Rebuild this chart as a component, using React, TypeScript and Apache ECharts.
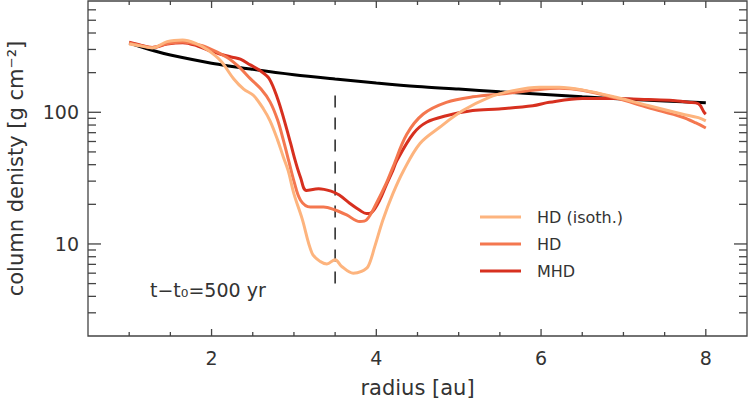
import React, { useEffect, useRef } from 'react';
import * as echarts from 'echarts';

// ---- data ----
const refR = [1.0, 1.3, 1.5, 2.0, 2.5, 3.0, 3.5, 4.0, 4.5, 5.0, 5.5, 6.0, 6.5, 7.0, 7.5, 8.0];
const refSigma = [336, 293, 272, 236, 212, 193, 179, 167, 157, 150, 143, 137, 131, 126, 122, 118];

const isoR = [1.0, 1.15, 1.28, 1.46, 1.65, 1.8, 1.95, 2.11, 2.27, 2.39, 2.51, 2.63, 2.71, 2.8, 2.87, 2.93, 3.0, 3.1, 3.22, 3.32, 3.4, 3.5, 3.58, 3.72, 3.82, 3.9, 3.98, 4.08, 4.2, 4.33, 4.53, 4.77, 5.05, 5.37, 5.66, 5.98, 6.22, 6.5, 6.91, 7.31, 7.71, 7.91, 8.0];
const isoSigma = [330, 318, 308, 344, 354, 335, 298, 246, 179, 150, 134, 106, 86, 62, 46, 36, 24, 15.5, 8.5, 7.35, 7.05, 7.6, 6.75, 6.0, 6.2, 6.75, 9.5, 15.2, 24, 36, 58, 77, 103, 130, 146, 155, 155, 148, 130, 112, 97, 91, 86];

const hdR = [1.0, 1.15, 1.28, 1.46, 1.65, 1.8, 1.95, 2.19, 2.33, 2.47, 2.6, 2.71, 2.8, 2.87, 2.94, 3.0, 3.08, 3.2, 3.36, 3.5, 3.64, 3.8, 3.88, 4.0, 4.12, 4.2, 4.37, 4.57, 4.85, 5.17, 5.58, 5.9, 6.22, 6.5, 6.91, 7.31, 7.71, 7.88, 8.0];
const hdSigma = [336, 320, 310, 333, 342, 330, 310, 261, 222, 180, 150, 120, 88, 62, 42, 30, 21.5, 19.1, 19.1, 18.1, 16.6, 14.8, 15.2, 20.3, 28.8, 38, 68, 97, 119, 131, 139, 147, 152, 147, 128, 108, 92, 83, 76];

const mhdR = [1.0, 1.15, 1.28, 1.46, 1.65, 1.83, 2.0, 2.11, 2.25, 2.35, 2.47, 2.6, 2.7, 2.8, 2.88, 2.96, 3.02, 3.08, 3.15, 3.3, 3.45, 3.55, 3.68, 3.8, 3.88, 3.95, 4.04, 4.12, 4.2, 4.25, 4.45, 4.61, 4.85, 5.17, 5.49, 5.9, 6.1, 6.5, 6.9, 7.3, 7.6, 7.79, 7.91, 7.98, 8.0];
const mhdSigma = [340, 322, 310, 330, 338, 319, 290, 276, 262, 253, 229, 205, 180, 128, 88, 58, 42, 32, 25.5, 26.3, 25.2, 23.5, 20.3, 18, 17, 17.5, 21.5, 28, 36, 43, 69, 84, 94, 103, 106, 112, 119, 127, 127, 125, 123, 119, 116, 100, 97];

const gapR = 3.5;
const gapMarkerSigma = [5, 150];

const seriesNames = ['HD (isoth.)', 'HD', 'MHD'];
const seriesColors = ['#fdb47e', '#f4774f', '#d7301f'];

const xMajorTicks = [2, 4, 6, 8];
const xMinorTicks = [1, 1.5, 2.5, 3, 3.5, 4.5, 5, 5.5, 6.5, 7, 7.5];
const yMajorTicks = [10, 100];
const yMinorTicks = [3, 4, 5, 6, 7, 8, 9, 20, 30, 40, 50, 60, 70, 80, 90, 200, 300, 400, 500, 600];

const X_MIN = 0.5;
const X_MAX = 8.5;
const Y_MIN = 2;
const Y_MAX = 700;

const FONT = 'DejaVu Sans';
const AXIS = '#444';
const TEXT = '#333';

const zip = (xs: number[], ys: number[]) => xs.map((x, i) => [x, ys[i]]);

function xTickSeries(ticks: number[], len: number) {
  return {
    type: 'custom',
    silent: true,
    z: 10,
    clip: false,
    data: ticks.map((v) => [v, Y_MIN]),
    renderItem: (params: any, api: any) => {
      const cs = params.coordSys;
      const x = api.coord([api.value(0), Y_MIN])[0];
      const b = cs.y + cs.height;
      const t = cs.y;
      return {
        type: 'group',
        children: [
          { type: 'line', shape: { x1: x, y1: b, x2: x, y2: b - len }, style: { stroke: AXIS, lineWidth: 1.3 } },
          { type: 'line', shape: { x1: x, y1: t, x2: x, y2: t + len }, style: { stroke: AXIS, lineWidth: 1.3 } },
        ],
      };
    },
  };
}

function yTickSeries(ticks: number[], len: number) {
  return {
    type: 'custom',
    silent: true,
    z: 10,
    clip: false,
    data: ticks.map((v) => [X_MIN, v]),
    renderItem: (params: any, api: any) => {
      const cs = params.coordSys;
      const y = api.coord([X_MIN, api.value(1)])[1];
      const l = cs.x;
      const r = cs.x + cs.width;
      return {
        type: 'group',
        children: [
          { type: 'line', shape: { x1: l, y1: y, x2: l + len, y2: y }, style: { stroke: AXIS, lineWidth: 1.3 } },
          { type: 'line', shape: { x1: r, y1: y, x2: r - len, y2: y }, style: { stroke: AXIS, lineWidth: 1.3 } },
        ],
      };
    },
  };
}

export default function App() {
  const ref = useRef<HTMLDivElement>(null);
  useEffect(() => {
    if (!ref.current) return;
    const chart = echarts.init(ref.current, null, { renderer: 'svg' });
    const curveData = [zip(isoR, isoSigma), zip(hdR, hdSigma), zip(mhdR, mhdSigma)];
    const legendTop = 217;
    const legendStep = 27;
    const option: any = {
      animation: false,
      textStyle: { fontFamily: FONT },
      grid: {
        left: 88,
        right: 1,
        top: 1,
        bottom: 65,
        containLabel: false,
        outerBoundsMode: 'none',
        show: true,
        borderColor: AXIS,
        borderWidth: 1.3,
        backgroundColor: 'transparent',
      },
      xAxis: {
        type: 'value',
        min: X_MIN,
        max: X_MAX,
        interval: 0.5,
        name: 'radius [au]',
        nameLocation: 'middle',
        nameGap: 41,
        nameTextStyle: { fontSize: 21, color: TEXT, fontFamily: FONT },
        axisLine: { show: false },
        axisTick: { show: false },
        splitLine: { show: false },
        axisLabel: {
          fontSize: 19,
          color: TEXT,
          margin: 12,
          fontFamily: FONT,
          formatter: (v: number) => (xMajorTicks.includes(v) ? String(v) : ''),
        },
      },
      yAxis: {
        type: 'log',
        logBase: 10,
        min: Y_MIN,
        max: Y_MAX,
        name: 'column denisty [g cm⁻²]',
        nameLocation: 'middle',
        nameGap: 62,
        nameTextStyle: { fontSize: 21, color: TEXT, fontFamily: FONT },
        axisLine: { show: false },
        axisTick: { show: false },
        splitLine: { show: false },
        axisLabel: {
          fontSize: 19,
          color: TEXT,
          margin: 9,
          fontFamily: FONT,
          showMinLabel: false,
          showMaxLabel: false,
          formatter: (v: number) => (yMajorTicks.some((t) => Math.abs(t - v) < 1e-6 * t) ? String(Math.round(v)) : ''),
        },
      },
      series: [
        {
          type: 'line',
          name: 'gap',
          data: gapMarkerSigma.map((s) => [gapR, s]),
          symbol: 'none',
          silent: true,
          lineStyle: { color: '#222', width: 1.5, type: [12, 10] },
          z: 1,
        },
        {
          type: 'line',
          name: 'initial',
          data: zip(refR, refSigma),
          symbol: 'none',
          smooth: 0.3,
          lineStyle: { color: '#000', width: 3 },
          z: 2,
        },
        ...[2, 1, 0].map((i) => ({
          type: 'line',
          name: seriesNames[i],
          data: curveData[i],
          symbol: 'none',
          smooth: 0.35,
          lineStyle: { color: seriesColors[i], width: 3 },
          z: 3,
        })),
        xTickSeries(xMajorTicks, 7),
        xTickSeries(xMinorTicks, 4),
        yTickSeries(yMajorTicks, 13),
        yTickSeries(yMinorTicks, 8),
      ],
      graphic: [
        ...seriesNames.map((n, i) => ({
          type: 'group',
          children: [
            {
              type: 'line',
              shape: { x1: 480, y1: legendTop + i * legendStep, x2: 521, y2: legendTop + i * legendStep },
              style: { stroke: seriesColors[i], lineWidth: 3 },
            },
            {
              type: 'text',
              x: 537,
              y: legendTop + i * legendStep,
              style: { text: n, fill: TEXT, font: `16px "${FONT}"`, textVerticalAlign: 'middle', textAlign: 'left' },
            },
          ],
        })),
        {
          type: 'text',
          x: 150,
          y: 290,
          style: { text: 't−t₀=500 yr', fill: TEXT, font: `19px "${FONT}"`, textVerticalAlign: 'middle', textAlign: 'left' },
        },
      ],
    };
    chart.setOption(option);
    return () => chart.dispose();
  }, []);
  return <div ref={ref} style={{ width: 748, height: 401, position: 'absolute', left: 0, top: 0 }} />;
}
